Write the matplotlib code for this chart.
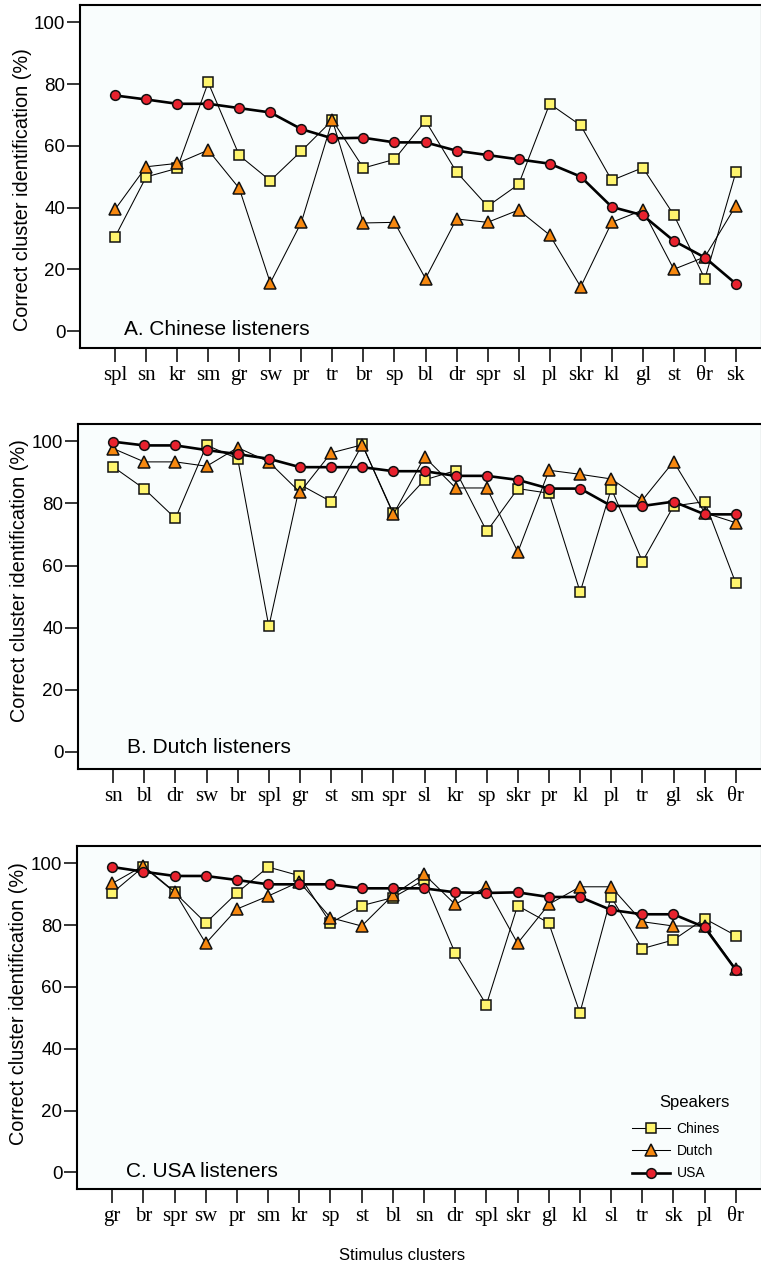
import matplotlib
matplotlib.use("Agg")
import matplotlib.pyplot as plt
from matplotlib.lines import Line2D

# ---------------- data ----------------
labels_A = ["spl", "sn", "kr", "sm", "gr", "sw", "pr", "tr", "br", "sp", "bl", "dr",
            "spr", "sl", "pl", "skr", "kl", "gl", "st", "θr", "sk"]
chinese_A = [30.5, 49.9, 52.7, 80.5, 56.9, 48.7, 58.3, 68.3, 52.8, 55.6, 68.1, 51.5,
             40.4, 47.5, 73.6, 66.6, 48.8, 52.9, 37.6, 16.9, 51.5]
dutch_A = [39.4, 53.2, 54.3, 58.6, 46.2, 15.6, 35.2, 68.3, 35.0, 35.2, 17.0, 36.3,
           35.2, 39.2, 31.1, 14.3, 35.2, 39.2, 20.0, 24.0, 40.6]
usa_A = [76.3, 75.0, 73.6, 73.6, 72.2, 70.8, 65.4, 62.4, 62.6, 61.1, 61.1, 58.4,
         57.0, 55.6, 54.2, 50.0, 40.2, 37.5, 29.2, 23.8, 15.3]

labels_B = ["sn", "bl", "dr", "sw", "br", "spl", "gr", "st", "sm", "spr", "sl", "kr",
            "sp", "skr", "pr", "kl", "pl", "tr", "gl", "sk", "θr"]
chinese_B = [91.8, 84.7, 75.2, 98.8, 94.4, 40.4, 86.1, 80.6, 99.0, 76.8, 87.6, 90.6,
             71.0, 84.8, 83.3, 51.5, 84.8, 61.3, 79.2, 80.6, 54.3]
dutch_B = [97.7, 93.4, 93.4, 92.0, 98.0, 93.4, 83.6, 96.3, 98.9, 76.5, 95.0, 85.0,
           85.0, 64.4, 90.7, 89.4, 87.9, 81.1, 93.5, 77.0, 73.8]
usa_B = [99.9, 98.7, 98.7, 97.2, 95.9, 94.4, 91.7, 91.7, 91.7, 90.4, 90.4, 88.9,
         88.9, 87.6, 84.8, 84.8, 79.2, 79.2, 80.6, 76.5, 76.5]

labels_C = ["gr", "br", "spr", "sw", "pr", "sm", "kr", "sp", "st", "bl", "sn", "dr",
            "spl", "skr", "gl", "kl", "sl", "tr", "sk", "pl", "θr"]
chinese_C = [90.4, 98.9, 90.6, 80.7, 90.4, 98.8, 96.0, 80.7, 86.3, 88.9, 94.6, 70.9,
             54.2, 86.3, 80.7, 51.6, 89.1, 72.4, 75.2, 82.1, 76.6]
dutch_C = [93.5, 99.2, 90.8, 74.1, 85.2, 89.4, 94.0, 82.4, 79.7, 89.7, 96.5, 86.7,
           92.4, 74.1, 86.7, 92.4, 92.4, 81.1, 79.7, 79.7, 65.8]
usa_C = [98.8, 97.3, 95.9, 95.9, 94.6, 93.2, 93.2, 93.2, 91.9, 91.9, 91.9, 90.6,
         90.4, 90.6, 89.1, 89.1, 84.9, 83.5, 83.5, 79.3, 65.5]

panel_titles = ["A. Chinese listeners", "B. Dutch listeners", "C. USA listeners"]
yticks = [0, 20, 40, 60, 80, 100]
legend_labels = ["Chines", "Dutch", "USA"]

# ---------------- styling ----------------
W, H = 761, 1269
fig = plt.figure(figsize=(W / 100, H / 100), dpi=100)
fig.patch.set_facecolor("white")

sans = ["Liberation Sans", "DejaVu Sans"]
serif = ["Liberation Serif", "DejaVu Serif"]

c_yellow = "#FFF56E"
c_orange = "#F7880F"
c_red = "#E8222E"

styles = [
    dict(marker="s", markersize=7.3, markerfacecolor=c_yellow, color="black",
         linewidth=0.75, markeredgewidth=1.1, markeredgecolor="#111111"),
    dict(marker="^", markersize=8.3, markerfacecolor=c_orange, color="black",
         linewidth=0.75, markeredgewidth=1.1, markeredgecolor="#111111"),
    dict(marker="o", markersize=7.0, markerfacecolor=c_red, color="black",
         linewidth=1.9, markeredgewidth=1.1, markeredgecolor="#111111"),
]

# panel frames in pixels: (left, top, bottom)
frames = [(80, 5, 348), (78, 424, 769), (77, 846, 1189.3)]
right_px = 762
ylabel_y = [0.463, 0.545, 0.542]
title_xy = [(0.29, 0.4), (0.45, 1.3), (0.45, 0.3)]

panels = [
    (labels_A, chinese_A, dutch_A, usa_A),
    (labels_B, chinese_B, dutch_B, usa_B),
    (labels_C, chinese_C, dutch_C, usa_C),
]

axes = []
for i, (labs, ch, du, us) in enumerate(panels):
    left, top, bottom = frames[i]
    ax = fig.add_axes([left / W, 1 - bottom / H, (right_px - left) / W, (bottom - top) / H])
    ax.set_facecolor("#F9FDFD")
    x = list(range(len(labs)))
    for series, st in zip([ch, du, us], styles):
        ax.plot(x, series, **st)
    ax.set_xlim(-1.13, 20.84)
    ax.set_ylim(-5.5, 105.6)
    ax.set_xticks(x)
    ax.set_xticklabels(labs, fontfamily=serif, fontsize=15)
    ax.set_yticks(yticks)
    ax.set_yticklabels([str(v) for v in yticks], fontfamily=sans, fontsize=13.5)
    ax.tick_params(axis="x", direction="out", length=10, width=1.1, pad=3)
    ax.tick_params(axis="y", direction="out", length=9.5, width=1.1, pad=1)
    for sp in ax.spines.values():
        sp.set_linewidth(1.5)
    ax.set_ylabel("Correct cluster identification (%)", fontfamily=sans, fontsize=14.3)
    ax.yaxis.set_label_coords(-0.071, ylabel_y[i])
    tx, ty = title_xy[i]
    ax.text(tx, ty, panel_titles[i], fontfamily=sans, fontsize=15, ha="left", va="center")
    axes.append(ax)

fig.text(402 / W, 1 - 1255 / H, "Stimulus clusters", fontfamily=sans, fontsize=12,
         ha="center", va="center")

# legend
handles = [Line2D([0], [0], **st) for st in styles]
axC = axes[2]
leg = axC.legend(handles, legend_labels, loc="lower left",
                 bbox_to_anchor=((632 - 77) / (right_px - 77), 0.026),
                 frameon=False, prop={"family": sans, "size": 10},
                 handlelength=2.7, handletextpad=0.5, labelspacing=0.58,
                 borderpad=0, borderaxespad=0)
fig.text(694 / W, 1 - 1102 / H, "Speakers", fontfamily=sans, fontsize=12,
         ha="center", va="center")

fig.savefig("out.png", dpi=100)
